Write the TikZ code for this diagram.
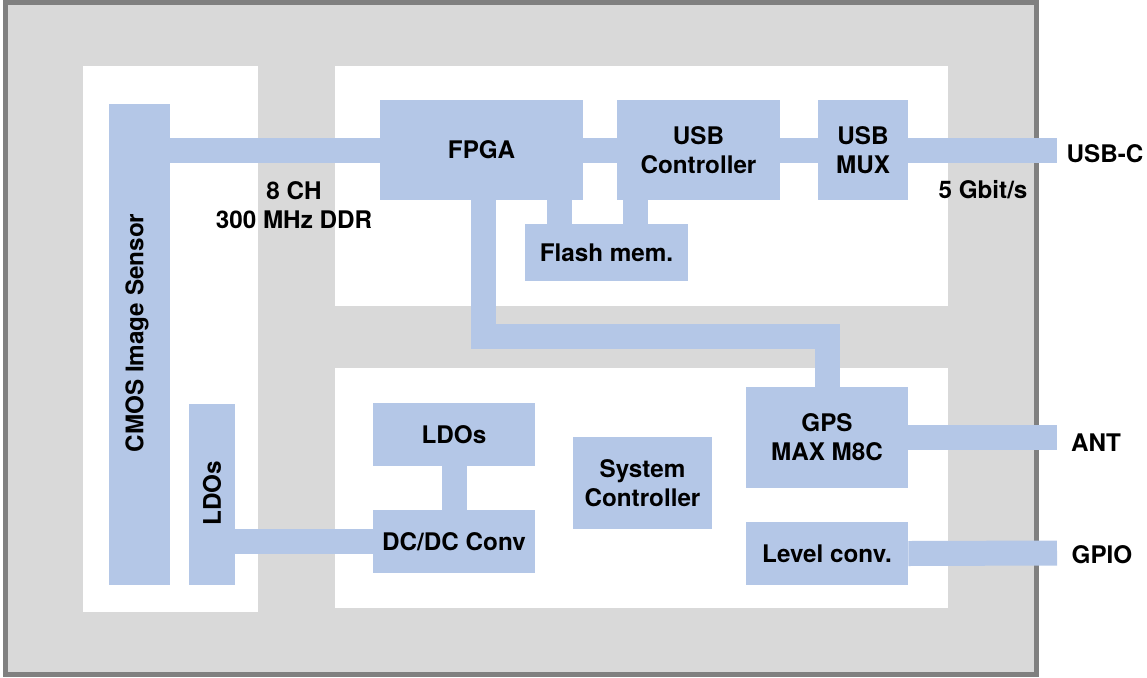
\documentclass[tikz,border=0pt]{standalone}
\usepackage{fontspec}
\setmainfont{TeX Gyre Heros}
\usetikzlibrary{calc}
\definecolor{boxblue}{HTML}{B4C7E7}
\definecolor{boardgray}{HTML}{D9D9D9}
\definecolor{edgegray}{HTML}{808080}

\begin{document}
\begin{tikzpicture}[x=0.02cm, y=-0.02cm,
	blk/.style={fill=boxblue, inner sep=0pt, align=center, font=\bfseries\fontsize{13.8}{16.5}\selectfont},
	lbl/.style={inner sep=0pt, align=center, font=\bfseries\fontsize{13.8}{16.5}\selectfont},
	link/.style={draw=boxblue, line width=0.5cm}]
	\useasboundingbox (0,0) rectangle (1147,677);
	% board
	\draw[line width=0.1cm, draw=edgegray, fill=boardgray] (5.5,2) rectangle (1036.5,674.5);
	\fill[white] (83,66) rectangle (258,612);
	\fill[white] (335,66) rectangle (948,306);
	\fill[white] (335,368) rectangle (948,608);
	% sensor side
	\node[blk, minimum width=1.22cm, minimum height=9.62cm] (cmos) at (139.5,344.5) {};
	\node[lbl, rotate=90] (cmostxt) at (137,333) {CMOS Image Sensor};
	\node[blk, minimum width=0.92cm, minimum height=3.62cm] (ldov) at (212,494.5) {};
	\node[lbl, rotate=90] (ldovtxt) at (212,493) {LDOs};
	% data path
	\node[blk, minimum width=4.06cm, minimum height=2cm] (fpga) at (481.5,150) {FPGA};
	\node[blk, minimum width=3.26cm, minimum height=2cm] (usbctl) at (698.5,150) {USB\\Controller};
	\node[blk, minimum width=1.8cm, minimum height=2cm] (mux) at (863,150) {USB\\MUX};
	\node[blk, minimum width=3.26cm, minimum height=1.14cm] (flash) at (606.5,252.5) {Flash mem.};
	% power and io
	\node[blk, minimum width=3.24cm, minimum height=1.26cm] (ldoh) at (454,434.5) {LDOs};
	\node[blk, minimum width=3.24cm, minimum height=1.26cm] (dcdc) at (454,541.5) {DC/DC Conv};
	\node[blk, minimum width=2.78cm, minimum height=1.84cm] (sysctl) at (642.5,483) {System\\Controller};
	\node[blk, minimum width=3.24cm, minimum height=2.02cm] (gps) at (827,437.5) {GPS\\MAX M8C};
	\node[blk, minimum width=3.24cm, minimum height=1.26cm] (lvl) at (827,553.5) {Level conv.};
	% connector ends and texts
	\coordinate (usbend) at (1057,150);
	\coordinate (antend) at (1057,437.5);
	\coordinate (gpioend) at (1057,553);
	\node[lbl] (usbtxt) at (1105,154) {USB-C};
	\node[lbl] (anttxt) at (1096,443) {ANT};
	\node[lbl] (gpiotxt) at (1102,555) {GPIO};
	\node[lbl] (ddrtxt) at (294,205) {8 CH\\300 MHz DDR};
	\node[lbl] (ratetxt) at (983,190) {5 Gbit/s};
	% links
	\draw[link] (cmos.east |- fpga.west) -- (fpga.west);
	\draw[link] (fpga.east) -- (usbctl.west);
	\draw[link] (usbctl.east) -- (mux.west);
	\draw[link] (mux.east) -- (usbend);
	\draw[link] ([xshift=0.7cm]flash.north west) -- ([xshift=0.7cm]flash.north west |- fpga.south);
	\draw[link] ([xshift=2.22cm]flash.north west) -- ([xshift=2.22cm]flash.north west |- usbctl.south);
	\draw[link] ([xshift=0.03cm]fpga.south) |- ($(gps.north)+(0,-50)$) -- (gps.north);
	\draw[link] (gps.east) -- (antend);
	\draw[link] (lvl.east) -- (gpioend);
	\draw[link] (ldoh.south) -- (dcdc.north);
	\draw[link] (ldov.east |- dcdc.west) -- (dcdc.west);
\end{tikzpicture}
\end{document}
